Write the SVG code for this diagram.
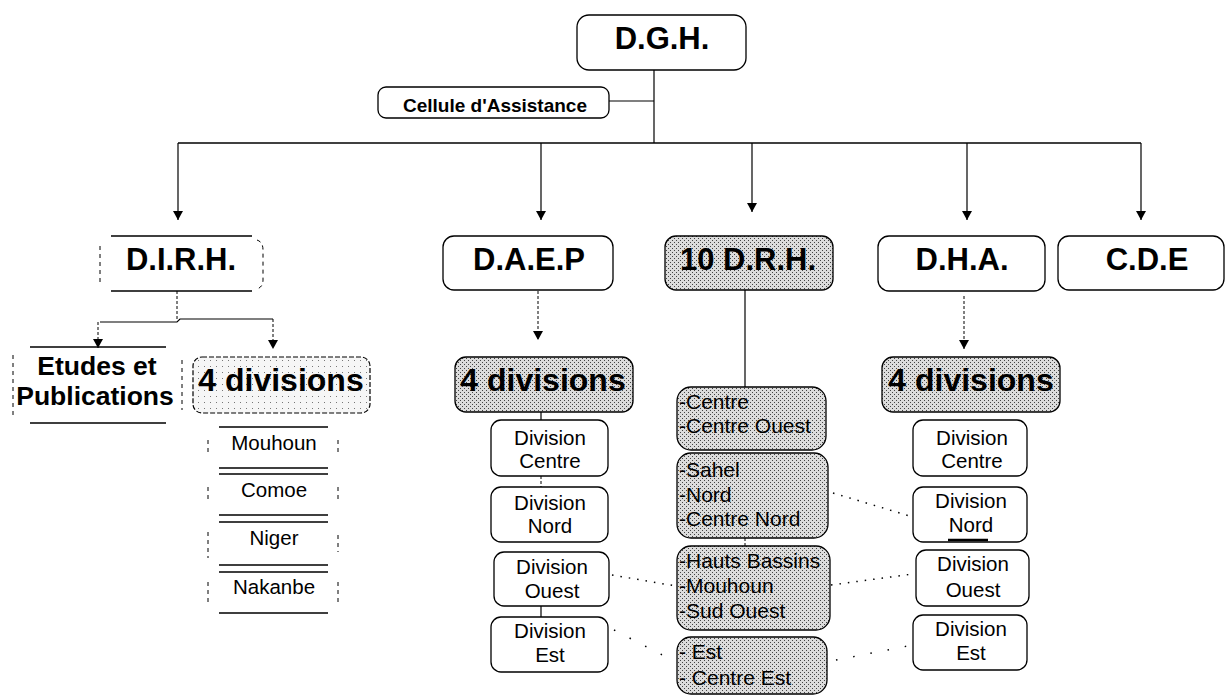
<svg xmlns="http://www.w3.org/2000/svg" width="1226" height="695" viewBox="0 0 1226 695">
<style>
.box{fill:#fff;stroke:#000;stroke-width:1.3}
.shade{fill:url(#dots);stroke:#000;stroke-width:1.3}
.shade2{fill:url(#dots2);stroke:#000;stroke-width:1.2;stroke-dasharray:5 2}
.edge{fill:none;stroke:#000;stroke-width:1.4}
.side{fill:none;stroke:#000;stroke-width:1;stroke-dasharray:4 4}
.conn{fill:none;stroke:#000;stroke-width:1.2}
.faint{fill:none;stroke:#000;stroke-width:1;stroke-dasharray:3 2}
.dot{fill:none;stroke:#000;stroke-width:1.5;stroke-dasharray:1.5 7}
.sparse{fill:none;stroke:#000;stroke-width:1.5;stroke-dasharray:1.5 16}
.t1{font-family:"Liberation Sans",Arial,sans-serif;font-weight:bold;font-size:31px;text-anchor:middle;fill:#000}
.t6{font-family:"Liberation Sans",Arial,sans-serif;font-weight:bold;font-size:32px;text-anchor:middle;fill:#000}
.t2{font-family:"Liberation Sans",Arial,sans-serif;font-weight:bold;font-size:26.5px;text-anchor:middle;fill:#000}
.t3{font-family:"Liberation Sans",Arial,sans-serif;font-size:20.5px;text-anchor:middle;fill:#000}
.t4{font-family:"Liberation Sans",Arial,sans-serif;font-size:21px;fill:#000}
.t5{font-family:"Liberation Sans",Arial,sans-serif;font-weight:bold;font-size:19px;text-anchor:middle;fill:#000}
</style>
<defs>
<pattern id="dots" width="4" height="4" patternUnits="userSpaceOnUse"><rect width="4" height="4" fill="#dcdcdc"/><rect width="1" height="1" fill="#444"/><rect x="2" y="2" width="1" height="1" fill="#444"/></pattern>
<pattern id="dots2" width="6" height="6" patternUnits="userSpaceOnUse"><rect width="6" height="6" fill="#f6f6f6"/><rect width="1" height="1" fill="#777"/></pattern>
<marker id="arr" markerWidth="10" markerHeight="10" refX="9" refY="5" orient="auto" markerUnits="userSpaceOnUse"><path d="M0,0 L9,5 L0,10 z" fill="#000"/></marker>
</defs>

<g id="connectors">
<path class="conn" d="M654,70 V143"/>
<path class="conn" d="M609,101 H654"/>
<path class="edge" d="M178,143 H1141"/>
<path class="conn" marker-end="url(#arr)" d="M178,143 V220"/>
<path class="conn" marker-end="url(#arr)" d="M541,143 V220"/>
<path class="conn" marker-end="url(#arr)" d="M752,143 V212"/>
<path class="conn" marker-end="url(#arr)" d="M967,143 V220"/>
<path class="conn" marker-end="url(#arr)" d="M1141,143 V220"/>
<path class="faint" d="M177,291 V320"/>
<path class="conn" d="M100,322 H177 L180,319 H273"/>
<path class="faint" marker-end="url(#arr)" d="M98,322 V348"/>
<path class="faint" marker-end="url(#arr)" d="M273,319 V349"/>
<path class="faint" marker-end="url(#arr)" d="M538,291 V340"/>
<path class="conn" d="M541,412 V420"/>
<path class="faint" d="M541,476 V487"/>
<path class="conn" d="M541,606 V617"/>
<path class="conn" d="M745,290 V387"/>
<path class="faint" d="M745,538 V546"/>
<path class="faint" marker-end="url(#arr)" d="M964,296 V349"/>
<path class="dot" d="M612,575 L676,586"/>
<path class="sparse" d="M614,630 L676,662"/>
<path class="dot" d="M833,493 L913,517"/>
<path class="dot" d="M831,585 L913,574"/>
<path class="sparse" d="M836,660 L913,645"/>
</g>

<g id="dgh"><rect class="box" x="577" y="15" width="169" height="55" rx="12"/><text class="t1" x="662" y="49">D.G.H.</text></g>
<g id="cellule"><rect class="box" x="378" y="87" width="231" height="31" rx="8"/><text class="t5" x="495" y="112">Cellule d'Assistance</text></g>

<g id="dirh"><path class="edge" d="M111,236 H252 M111,291 H252"/><path class="side" d="M257,240 Q263,242 263,250 V280 Q263,287 257,289 M100,246 V282"/><text class="t1" x="181" y="270">D.I.R.H.</text></g>
<g id="daep"><rect class="box" x="443" y="236" width="170" height="54" rx="11"/><text class="t1" x="529" y="270">D.A.E.P</text></g>
<g id="drh"><rect class="shade" x="665" y="236" width="168" height="54" rx="11"/><text class="t1" x="748" y="270">10 D.R.H.</text></g>
<g id="dha"><rect class="box" x="878" y="236" width="167" height="55" rx="11"/><text class="t1" x="962" y="270">D.H.A.</text></g>
<g id="cde"><rect class="box" x="1058" y="236" width="166" height="54" rx="11"/><text class="t1" x="1147" y="270">C.D.E</text></g>

<g id="etudes"><path class="edge" d="M30,347 H166 M30,423 H166"/><path class="side" d="M13,355 V415 M182,360 V410"/><text class="t2" x="97" y="375">Etudes et</text><text class="t2" x="95" y="405">Publications</text></g>
<g id="dirh-div"><rect class="shade2" x="193" y="357" width="177" height="56" rx="9"/><text class="t6" x="281" y="391">4 divisions</text></g>
<g id="mouhoun"><path class="edge" d="M219,427 H328 M219,468 H328"/><path class="side" d="M208,440 V455 M338,440 V455"/><text class="t3" x="274" y="450">Mouhoun</text></g>
<g id="comoe"><path class="edge" d="M219,474 H328 M219,515 H328"/><path class="side" d="M208,487 V502 M338,487 V502"/><text class="t3" x="274" y="497">Comoe</text></g>
<g id="niger"><path class="edge" d="M219,522 H328 M219,565 H328"/><path class="side" d="M208,532 V558 M338,535 V552"/><text class="t3" x="274" y="545">Niger</text></g>
<g id="nakanbe"><path class="edge" d="M219,572 H328 M219,613 H328"/><path class="side" d="M208,582 V604 M338,582 V602"/><text class="t3" x="274" y="594">Nakanbe</text></g>

<g id="daep-div"><rect class="shade" x="455" y="357" width="178" height="55" rx="11"/><text class="t6" x="543" y="391">4 divisions</text></g>
<g id="daep-centre"><rect class="box" x="491" y="420" width="117" height="56" rx="10"/><text class="t3" x="550" y="445">Division</text><text class="t3" x="550" y="468">Centre</text></g>
<g id="daep-nord"><rect class="box" x="491" y="487" width="117" height="55" rx="10"/><text class="t3" x="550" y="510">Division</text><text class="t3" x="550" y="533">Nord</text></g>
<g id="daep-ouest"><rect class="box" x="494" y="552" width="115" height="54" rx="10"/><text class="t3" x="552" y="574">Division</text><text class="t3" x="552" y="598">Ouest</text></g>
<g id="daep-est"><rect class="box" x="491" y="617" width="117" height="55" rx="10"/><text class="t3" x="550" y="638">Division</text><text class="t3" x="550" y="662">Est</text></g>

<g id="drh-1"><rect class="shade" x="677" y="387" width="149" height="63" rx="14"/><text class="t4" x="679" y="409">-Centre</text><text class="t4" x="679" y="433">-Centre Ouest</text></g>
<g id="drh-2"><rect class="shade" x="677" y="453" width="151" height="85" rx="14"/><text class="t4" x="679" y="477">-Sahel</text><text class="t4" x="679" y="502">-Nord</text><text class="t4" x="679" y="526">-Centre Nord</text></g>
<g id="drh-3"><rect class="shade" x="677" y="546" width="153" height="84" rx="14"/><text class="t4" x="679" y="568">-Hauts Bassins</text><text class="t4" x="679" y="593">-Mouhoun</text><text class="t4" x="679" y="618">-Sud Ouest</text></g>
<g id="drh-4"><rect class="shade" x="677" y="637" width="150" height="57" rx="14"/><text class="t4" x="679" y="659">- Est</text><text class="t4" x="679" y="685">- Centre Est</text></g>

<g id="dha-div"><rect class="shade" x="882" y="357" width="178" height="55" rx="11"/><text class="t6" x="971" y="391">4 divisions</text></g>
<g id="dha-centre"><rect class="box" x="913" y="420" width="114" height="56" rx="10"/><text class="t3" x="972" y="445">Division</text><text class="t3" x="972" y="468">Centre</text></g>
<g id="dha-nord"><rect class="box" x="913" y="487" width="114" height="55" rx="10"/><text class="t3" x="971" y="508">Division</text><text class="t3" x="971" y="532">Nord</text><path d="M948,540 H988" stroke="#000" stroke-width="2.5"/></g>
<g id="dha-ouest"><rect class="box" x="916" y="550" width="113" height="56" rx="10"/><text class="t3" x="973" y="571">Division</text><text class="t3" x="973" y="597">Ouest</text></g>
<g id="dha-est"><rect class="box" x="913" y="615" width="114" height="55" rx="10"/><text class="t3" x="971" y="636">Division</text><text class="t3" x="971" y="660">Est</text></g>
</svg>
